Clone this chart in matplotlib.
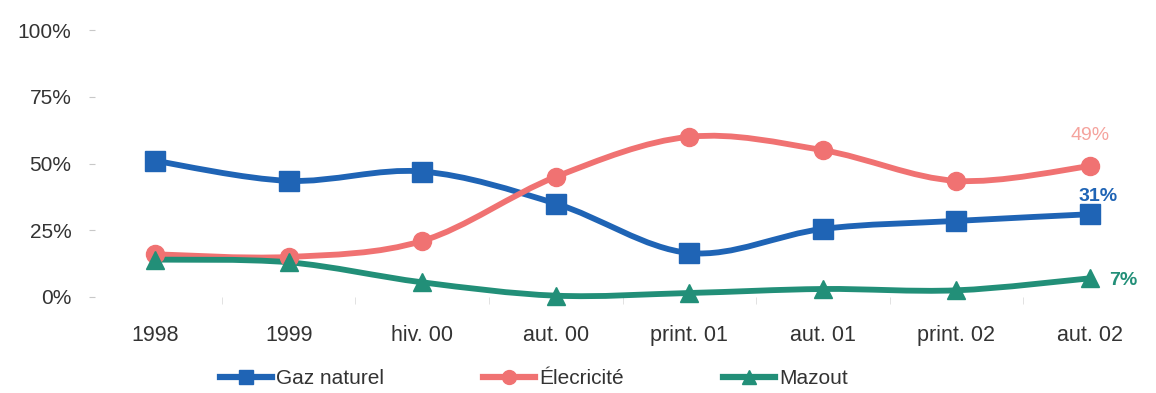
import numpy as np
import matplotlib
matplotlib.use("Agg")
import matplotlib.pyplot as plt
from matplotlib.path import Path
from matplotlib.patches import PathPatch
from matplotlib.lines import Line2D

plt.rcParams['font.family'] = ['Liberation Sans', 'DejaVu Sans']

# ---- data (part de marché par énergie, %)
periodes = ["1998", "1999", "hiv. 00", "aut. 00", "print. 01", "aut. 01", "print. 02", "aut. 02"]
gaz = [51, 43.5, 47, 35, 16.5, 25.5, 28.5, 31]
elec = [16, 15, 21, 45, 60, 55, 43.5, 49]
mazout = [14, 13, 5.5, 0.5, 1.5, 3, 2.5, 7]

BLUE = "#1f64b5"
RED = "#f07272"
GREEN = "#228f78"
TXT = "#333333"


def smooth_path(xs, ys, tension=0.5):
    # Catmull-Rom passant par les points, converti en courbes de Bezier
    pts = np.column_stack([xs, ys]).astype(float)
    verts = [pts[0]]
    codes = [Path.MOVETO]
    n = len(pts)
    for i in range(n - 1):
        p0 = pts[i - 1] if i > 0 else pts[i]
        p1 = pts[i]
        p2 = pts[i + 1]
        p3 = pts[i + 2] if i + 2 < n else pts[i + 1]
        c1 = p1 + (p2 - p0) * tension / 3
        c2 = p2 - (p3 - p1) * tension / 3
        verts += [c1, c2, p2]
        codes += [Path.CURVE4] * 3
    return Path(verts, codes)


fig = plt.figure(figsize=(11.56, 3.93), dpi=100)
ax = fig.add_axes([95 / 1156, 96 / 393, (1130 - 95) / 1156, (363 - 96) / 393])
x = np.arange(len(periodes))

series = [
    (gaz, BLUE, "s", 14, "Gaz naturel"),
    (elec, RED, "o", 13, "Élecricité"),
    (mazout, GREEN, "^", 13, "Mazout"),
]
handles = []
for vals, col, mk, ms, lab in series:
    ax.add_patch(PathPatch(smooth_path(x, vals), facecolor="none", edgecolor=col,
                           lw=4.2, clip_on=False, zorder=2))
    ax.plot(x, vals, ls="none", marker=mk, ms=ms, color=col, mfc=col,
            mec=col, clip_on=False, zorder=3)
    handles.append(Line2D([], [], color=col, lw=4.5, marker=mk, ms=10, label=lab))

# valeurs finales
ax.text(x[-1], elec[-1] + 11.5, f"{elec[-1]:.0f}%", color="#f5a39d",
        ha="center", va="center", fontsize=14)
ax.text(x[-1] + 0.06, gaz[-1] + 6.5, f"{gaz[-1]:.0f}%", color=BLUE,
        ha="center", va="center", fontsize=14, fontweight="bold")
ax.text(x[-1] + 0.25, mazout[-1] - 1.0, f"{mazout[-1]:.0f}%", color=GREEN,
        ha="center", va="center", fontsize=14, fontweight="bold")

ax.set_xlim(-0.45, 7.3)
ax.set_ylim(0, 100)
ax.set_yticks([0, 25, 50, 75, 100])
ax.set_yticklabels([f"{v}%" for v in [0, 25, 50, 75, 100]])
ax.set_xticks(x)
ax.set_xticks(x[:-1] + 0.5, minor=True)
ax.set_xticklabels(periodes)
for s in ax.spines.values():
    s.set_visible(False)
ax.tick_params(axis="y", length=4, color="#c8c8c8", labelsize=15,
               labelcolor=TXT, pad=13)
ax.tick_params(axis="x", which="major", length=0, labelsize=15.5,
               labelcolor=TXT, pad=20)
ax.tick_params(axis="x", which="minor", length=5, color="#dddddd")

fig.legend(handles=handles, loc="center left", bbox_to_anchor=(220 / 1156, 1 - 379 / 393),
           ncol=3, frameon=False, fontsize=15, handlelength=2.5,
           columnspacing=4.75, handletextpad=0.2, borderpad=0, borderaxespad=0,
           labelcolor=TXT)

fig.savefig("out.png", dpi=100, facecolor="white")
